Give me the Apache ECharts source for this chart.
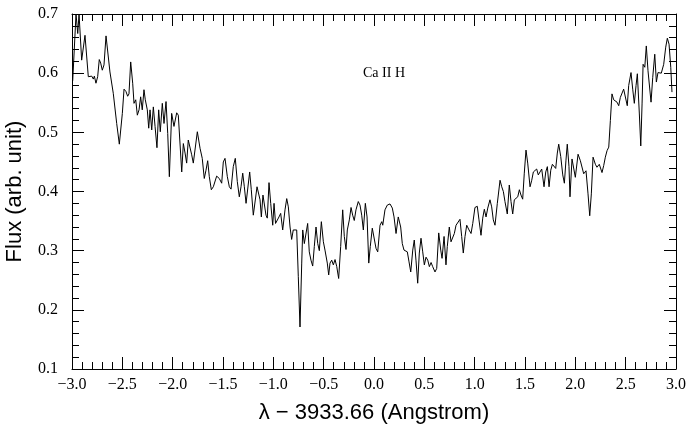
<!DOCTYPE html>
<html>
<head>
<meta charset="utf-8">
<title>Ca II H</title>
<script src="https://cdn.jsdelivr.net/npm/echarts@6.0.0/dist/echarts.min.js"></script>
<style>
  html, body { margin: 0; padding: 0; background: #fff; }
  #chart { width: 687px; height: 443px; }
</style>
</head>
<body>
<div id="chart"></div>
<script>
// wavelength offset from 3933.66 A
const lambda = [
  -2.993, -2.960, -2.943, -2.930, -2.904, -2.871, -2.838, -2.821, -2.804, -2.788,
  -2.778, -2.762, -2.745, -2.729, -2.715, -2.699, -2.682, -2.662, -2.645, -2.623,
  -2.590, -2.556, -2.530, -2.516, -2.500, -2.483, -2.464, -2.447, -2.434, -2.417,
  -2.397, -2.384, -2.367, -2.351, -2.334, -2.318, -2.302, -2.285, -2.272, -2.252,
  -2.238, -2.225, -2.208, -2.192, -2.175, -2.156, -2.139, -2.123, -2.103, -2.086,
  -2.066, -2.049, -2.033,
  -2.010, -1.987, -1.960, -1.944, -1.910, -1.894, -1.877, -1.861, -1.845, -1.828,
  -1.811, -1.795, -1.755, -1.728, -1.706, -1.686, -1.669, -1.652, -1.636, -1.616,
  -1.596, -1.563, -1.537, -1.513, -1.497, -1.480, -1.457, -1.437, -1.420, -1.398,
  -1.378, -1.358, -1.338, -1.321, -1.304, -1.288, -1.271, -1.255, -1.235, -1.219,
  -1.199, -1.182, -1.162, -1.145, -1.132, -1.119, -1.103, -1.090, -1.073, -1.060,
  -1.043, -1.026, -1.006,
  -0.993, -0.978, -0.963, -0.944, -0.927, -0.907, -0.884, -0.867, -0.851, -0.834,
  -0.818, -0.802, -0.785, -0.768, -0.752, -0.735, -0.718, -0.708, -0.692, -0.678,
  -0.659, -0.643, -0.626, -0.609, -0.593, -0.576, -0.559, -0.543, -0.523, -0.503,
  -0.487, -0.464, -0.450, -0.437, -0.420, -0.404, -0.387, -0.370, -0.351, -0.331,
  -0.311, -0.295, -0.278, -0.265, -0.245, -0.228, -0.212, -0.196, -0.179, -0.156,
  -0.139, -0.122, -0.106, -0.086, -0.069, -0.052, -0.037, -0.017,
  0.020, 0.037, 0.060, 0.077, 0.087, 0.109, 0.132, 0.159, 0.182, 0.199,
  0.219, 0.241, 0.265, 0.281, 0.298, 0.315, 0.331, 0.348, 0.365, 0.385,
  0.400, 0.417, 0.434, 0.450, 0.467, 0.484, 0.500, 0.517, 0.534, 0.550,
  0.567, 0.583, 0.606, 0.623, 0.643, 0.663, 0.676, 0.696, 0.715, 0.728,
  0.748, 0.765, 0.782, 0.798, 0.815, 0.854, 0.871, 0.887, 0.904, 0.921,
  0.944,
  0.964, 0.981, 1.003, 1.026, 1.043, 1.063, 1.080, 1.096, 1.113, 1.130,
  1.152, 1.169, 1.185, 1.202, 1.225, 1.252, 1.269, 1.285, 1.301, 1.324,
  1.344, 1.361, 1.378, 1.394, 1.428, 1.444, 1.460, 1.477, 1.493, 1.510,
  1.527, 1.550, 1.567, 1.583, 1.600, 1.616, 1.632, 1.649, 1.666, 1.689,
  1.706, 1.722, 1.739, 1.756, 1.772, 1.788, 1.805, 1.821, 1.835, 1.855,
  1.875, 1.891, 1.907, 1.920, 1.937, 1.947,
  1.967, 2.000, 2.027, 2.050, 2.066, 2.083, 2.106, 2.126, 2.143, 2.159,
  2.176, 2.199, 2.215, 2.238, 2.265, 2.282, 2.298, 2.315, 2.332, 2.348,
  2.364, 2.381, 2.397, 2.414, 2.431, 2.447, 2.464, 2.480, 2.497, 2.516,
  2.530, 2.553, 2.570, 2.586, 2.603, 2.616, 2.636, 2.650, 2.663, 2.673,
  2.690, 2.705, 2.722, 2.752, 2.769, 2.789, 2.805, 2.821, 2.838, 2.854,
  2.878, 2.898, 2.914, 2.931, 2.948, 2.960
];

const flux = [
  0.587, 0.700, 0.667, 0.700, 0.622, 0.664, 0.594, 0.591, 0.595, 0.590,
  0.595, 0.583, 0.594, 0.623, 0.617, 0.605, 0.614, 0.663, 0.664, 0.602,
  0.566, 0.515, 0.480, 0.479, 0.532, 0.573, 0.569, 0.561, 0.565, 0.619,
  0.583, 0.549, 0.555, 0.529, 0.538, 0.560, 0.538, 0.572, 0.555, 0.538,
  0.507, 0.538, 0.504, 0.543, 0.510, 0.474, 0.538, 0.501, 0.549, 0.515,
  0.552, 0.498, 0.425,
  0.532, 0.510, 0.533, 0.529, 0.433, 0.481, 0.465, 0.448, 0.487, 0.487,
  0.462, 0.448, 0.501, 0.473, 0.456, 0.422, 0.436, 0.452, 0.425, 0.403,
  0.408, 0.426, 0.422, 0.414, 0.450, 0.456, 0.425, 0.408, 0.404, 0.442,
  0.456, 0.417, 0.391, 0.408, 0.431, 0.408, 0.380, 0.378, 0.433, 0.403,
  0.360, 0.357, 0.408, 0.411, 0.386, 0.357, 0.394, 0.397, 0.360, 0.355,
  0.415, 0.380, 0.343,
  0.380, 0.346, 0.343, 0.357, 0.363, 0.335, 0.369, 0.388, 0.374, 0.340,
  0.319, 0.335, 0.338, 0.335, 0.256, 0.171, 0.279, 0.335, 0.312, 0.315,
  0.346, 0.298, 0.284, 0.274, 0.307, 0.340, 0.312, 0.300, 0.349, 0.315,
  0.301, 0.279, 0.259, 0.279, 0.284, 0.276, 0.285, 0.273, 0.253, 0.307,
  0.369, 0.324, 0.302, 0.335, 0.352, 0.373, 0.360, 0.351, 0.369, 0.383,
  0.377, 0.360, 0.335, 0.380, 0.357, 0.279, 0.307, 0.338,
  0.304, 0.298, 0.343, 0.349, 0.343, 0.369, 0.377, 0.379, 0.372, 0.357,
  0.329, 0.357, 0.340, 0.312, 0.301, 0.301, 0.298, 0.281, 0.264, 0.301,
  0.318, 0.284, 0.245, 0.296, 0.321, 0.298, 0.276, 0.289, 0.284, 0.273,
  0.280, 0.273, 0.264, 0.270, 0.330, 0.301, 0.287, 0.324, 0.276, 0.307,
  0.340, 0.315, 0.312, 0.329, 0.343, 0.353, 0.324, 0.296, 0.324, 0.343,
  0.335,
  0.329, 0.346, 0.373, 0.375, 0.352, 0.326, 0.355, 0.370, 0.357, 0.372,
  0.386, 0.374, 0.352, 0.343, 0.380, 0.419, 0.408, 0.400, 0.383, 0.362,
  0.411, 0.383, 0.362, 0.386, 0.391, 0.403, 0.394, 0.387, 0.431, 0.470,
  0.448, 0.408, 0.419, 0.433, 0.431, 0.438, 0.428, 0.426, 0.438, 0.408,
  0.433, 0.442, 0.408, 0.436, 0.446, 0.443, 0.439, 0.465, 0.480, 0.459,
  0.428, 0.414, 0.453, 0.480, 0.442, 0.391,
  0.455, 0.424, 0.463, 0.452, 0.449, 0.430, 0.435, 0.396, 0.359, 0.396,
  0.458, 0.446, 0.441, 0.446, 0.432, 0.444, 0.458, 0.469, 0.475, 0.520,
  0.565, 0.555, 0.552, 0.551, 0.545, 0.559, 0.562, 0.573, 0.573, 0.545,
  0.579, 0.601, 0.573, 0.549, 0.579, 0.599, 0.531, 0.477, 0.548, 0.615,
  0.610, 0.646, 0.604, 0.551, 0.593, 0.632, 0.585, 0.601, 0.604, 0.600,
  0.615, 0.644, 0.659, 0.649, 0.610, 0.568
];

const xRange = [-3, 3];
const yRange = [0.1, 0.7];
const xTitle = 'λ − 3933.66 (Angstrom)';
const yTitle = 'Flux (arb. unit)';
const lineLabel = 'Ca II H';

const serif = 'Liberation Serif';
const sans = 'Liberation Sans';

function signed(v) {
  return (v < 0 ? '\u2212' : '') + Math.abs(v).toFixed(1);
}

function frameAxis(extra) {
  return Object.assign({
    type: 'value',
    axisLine: { show: true, onZero: false, lineStyle: { color: '#000', width: 1 } },
    axisTick: { show: true, inside: true, length: 12, lineStyle: { color: '#000', width: 1 } },
    minorTick: { show: true, splitNumber: 5, length: 7, lineStyle: { color: '#000', width: 1 } },
    splitLine: { show: false },
    minorSplitLine: { show: false }
  }, extra);
}

const chart = echarts.init(document.getElementById('chart'), null, { renderer: 'canvas' });

chart.setOption({
  animation: false,
  backgroundColor: '#fff',
  grid: { left: 72, right: 11, top: 14, bottom: 74, containLabel: false, outerBoundsMode: 'none' },
  xAxis: [
    frameAxis({
      position: 'bottom',
      min: xRange[0], max: xRange[1], interval: 0.5,
      axisLabel: { margin: 8, color: '#000', fontFamily: serif, fontSize: 16, formatter: signed },
      name: xTitle,
      nameLocation: 'middle',
      nameGap: 33,
      nameTextStyle: { color: '#000', fontFamily: sans, fontSize: 22 }
    }),
    frameAxis({
      position: 'top',
      min: xRange[0], max: xRange[1], interval: 0.5,
      axisLabel: { show: false }
    })
  ],
  yAxis: [
    frameAxis({
      position: 'left',
      min: yRange[0], max: yRange[1], interval: 0.1,
      axisLabel: { margin: 14, color: '#000', fontFamily: serif, fontSize: 16, formatter: (v) => v.toFixed(1) },
      name: yTitle,
      nameLocation: 'middle',
      nameGap: 46,
      nameRotate: 90,
      nameTextStyle: { color: '#000', fontFamily: sans, fontSize: 22 }
    }),
    frameAxis({
      position: 'right',
      min: yRange[0], max: yRange[1], interval: 0.1,
      axisLabel: { show: false }
    })
  ],
  graphic: [
    {
      type: 'text',
      left: 363,
      top: 66,
      style: { text: lineLabel, fill: '#000', font: '14px "' + serif + '"' }
    }
  ],
  series: [
    {
      type: 'line',
      xAxisIndex: 0,
      yAxisIndex: 0,
      data: lambda.map((x, i) => [x, flux[i]]),
      showSymbol: false,
      symbol: 'none',
      clip: true,
      lineStyle: { color: '#000', width: 1 }
    }
  ]
});
</script>
</body>
</html>
